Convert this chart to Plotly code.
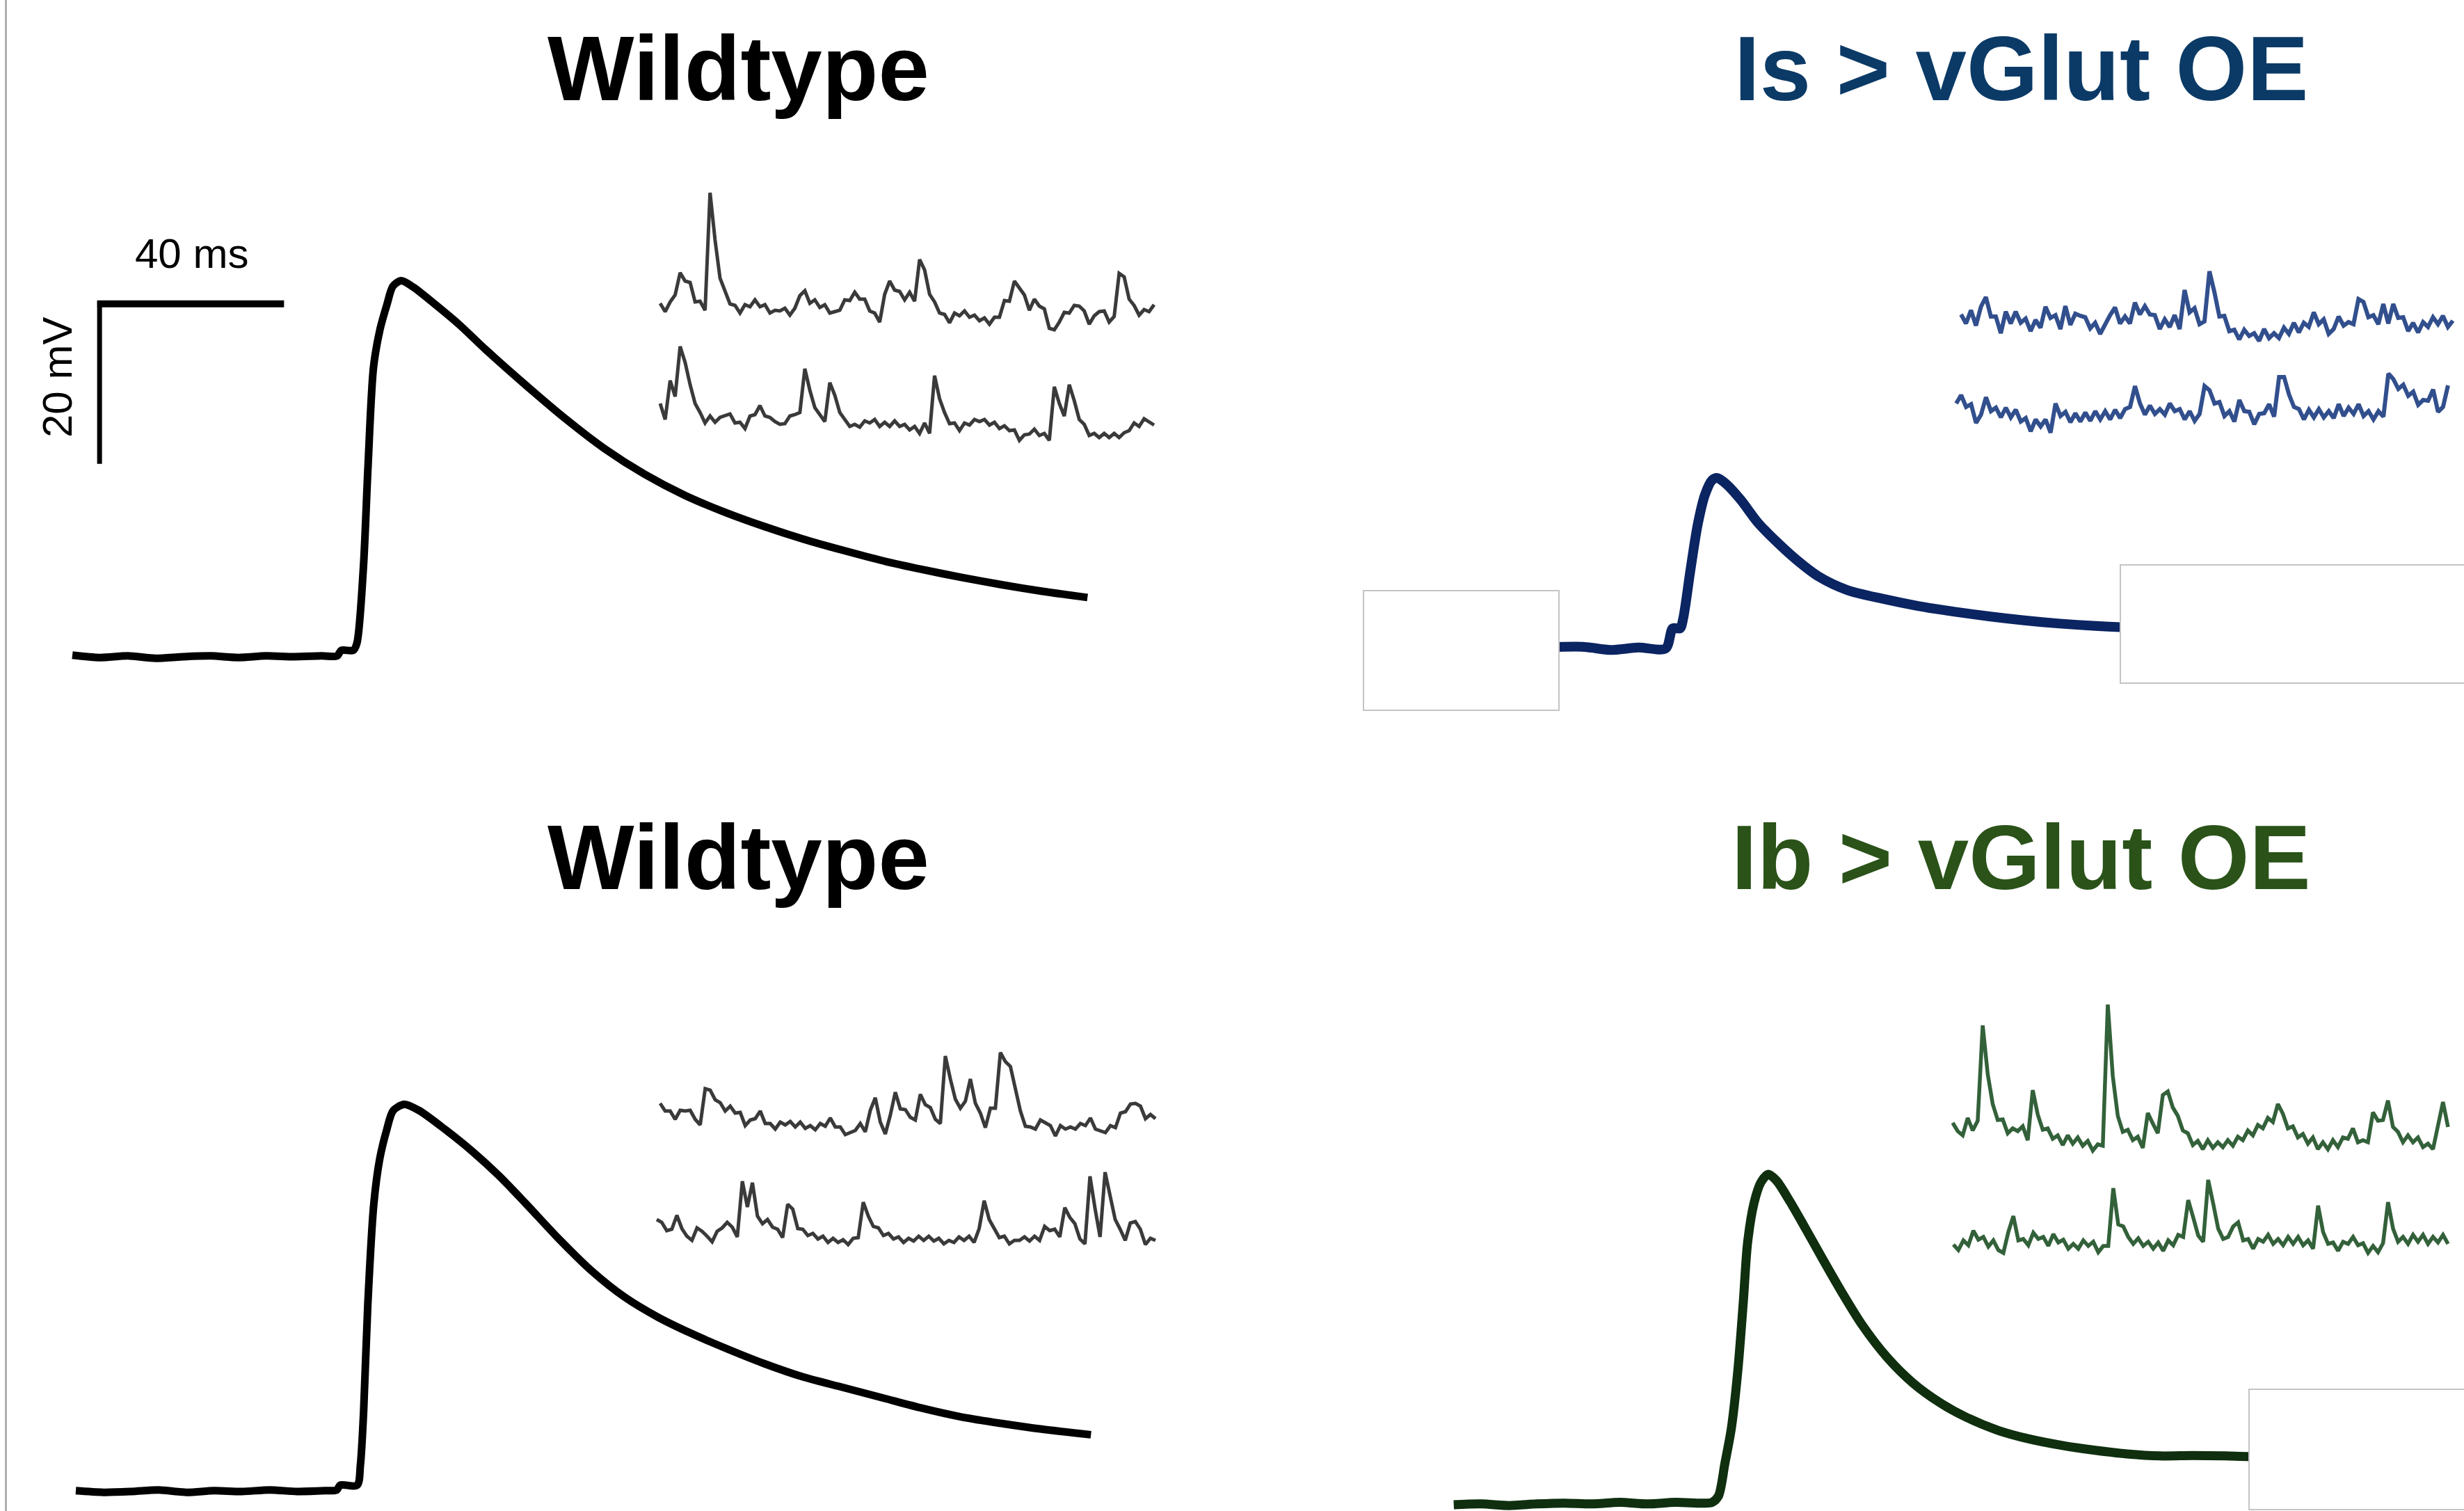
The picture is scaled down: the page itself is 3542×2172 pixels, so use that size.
import plotly.graph_objects as go

W, H = 3542, 2172

# ---------------- evoked EPSPs (time in ms, membrane potential in mV above rest) -------------
WT_TOP_T = [0, 6, 12, 18, 24, 30, 36, 42, 48, 54, 57.4, 58.3, 60.9, 61.7, 63.1, 64.1, 65.3, 66.7, 68.2, 69.5,
            71.3, 73.9, 78.1, 83.9, 89.6, 98.2, 106.8, 115.4, 124.1, 132.7, 141.3, 149.9, 158.5, 167.1, 175.7,
            184.3, 192.9, 201.5, 210.1, 220.1]
WT_TOP_V = [0.2, -0.1, 0.1, -0.2, 0.0, 0.1, -0.1, 0.1, 0.0, 0.1, 0.1, 0.8, 0.8, 1.7, 11.1, 23.7, 36.2, 40.9, 44.0, 46.3,
            47.0, 46.2, 44.3, 41.5, 38.4, 34.0, 29.8, 26.0, 22.8, 20.2, 18.1, 16.3, 14.7, 13.3, 12.0,
            10.9, 9.9, 9.0, 8.2, 7.4]

WT_BOT_T = [0, 6, 12, 18, 24, 30, 36, 42, 48, 54, 56.6, 57.3, 61.0, 61.7, 62.4, 63.3, 64.6, 65.9, 67.4, 68.8,
            71.2, 74.5, 80.2, 86.0, 91.7, 97.4, 104.7, 111.8, 119.0, 126.2, 133.3, 140.5, 149.2, 157.8, 166.4,
            175.0, 183.6, 192.2, 200.8, 209.4, 220.1]
WT_BOT_V = [0.1, -0.1, 0.0, 0.2, -0.1, 0.1, 0.0, 0.2, 0.0, 0.1, 0.2, 0.8, 0.8, 3.3, 10.0, 23.3, 35.9, 41.6, 45.2, 47.6,
            48.4, 47.6, 45.2, 42.5, 39.5, 36.1, 31.6, 27.6, 24.3, 21.8, 19.8, 18.0, 16.0, 14.3, 13.0,
            11.7, 10.4, 9.3, 8.5, 7.8, 7.1]

IS_T = [0, 10, 20, 30, 40, 46, 52, 58.0, 59.5, 61.1, 61.8, 63.3, 64.9, 66.5, 68.0, 69.1, 71.0, 74.2, 78.0, 81.9,
        86.5, 91.1, 97.3, 105.0, 112.7, 120.4, 128.1, 135.7, 143.4, 151.2, 156.6, 165.0]
IS_V = [0.0, 0.2, -0.1, 0.1, 0.2, -0.2, 0.1, 0.0, 2.5, 2.5, 3.8, 9.6, 15.4, 19.2, 21.0, 21.3, 20.6, 18.6, 15.7, 13.4,
        11.0, 9.0, 7.3, 6.2, 5.3, 4.6, 4.0, 3.5, 3.1, 2.8, 2.65, 2.5]

IB_T = [2, 8, 14, 20, 26, 32, 38, 44, 50, 56, 58.0, 59.4, 60.8, 62.2, 63.6, 64.8, 65.7, 67.1, 68.6, 70.2,
        72.0, 74.9, 78.4, 81.9, 86.1, 90.4, 96.0, 101.6, 107.3, 112.9, 120.0, 126.9, 134.0, 141.1, 148.0,
        155.1, 162.2, 169.2, 175.5, 185.0]
IB_V = [0.0, 0.1, -0.1, 0.1, 0.2, 0.1, 0.3, 0.1, 0.3, 0.2, 0.3, 1.1, 5.2, 9.6, 16.8, 25.5, 32.7, 37.7, 40.3, 41.3,
        40.5, 37.9, 34.4, 30.8, 26.6, 22.6, 18.4, 15.2, 12.8, 11.0, 9.3, 8.2, 7.4, 6.8, 6.35,
        6.1, 6.15, 6.1, 6.0, 5.9]

# ---------------- spontaneous minis (mV), one sample every MINI_DT_MS -------------------------
MINI_DT_MS = 10.0
WT_TOP_MINI_1 = [0.14, 0.02, 0.16, 0.26, 0.58, 0.46, 0.44, 0.16, 0.17, 0.04,
                 1.73, 1.05, 0.50, 0.33, 0.13, 0.11, 0.00, 0.12, 0.09, 0.19,
                 0.09, 0.12, 0.00, 0.04, 0.03, 0.07, -0.03, 0.07, 0.25, 0.32,
                 0.14, 0.19, 0.08, 0.12, 0.00, 0.02, 0.04, 0.19, 0.18, 0.30,
                 0.20, 0.20, 0.03, 0.00, -0.13, 0.27, 0.46, 0.33, 0.31, 0.19,
                 0.30, 0.17, 0.77, 0.62, 0.27, 0.16, 0.00, -0.02, -0.14, 0.00,
                 -0.04, 0.03, -0.06, -0.03, -0.11, -0.07, -0.16, -0.06, -0.06, 0.18,
                 0.17, 0.46, 0.37, 0.26, 0.04, 0.20, 0.10, 0.06, -0.22, -0.24,
                 -0.13, 0.01, 0.00, 0.11, 0.10, 0.03, -0.16, -0.04, 0.02, 0.03,
                 -0.13, -0.05, 0.57, 0.52, 0.20, 0.11, -0.03, 0.05, 0.02, 0.12]
WT_TOP_MINI_2 = [0.33, 0.10, 0.66, 0.43, 1.15, 0.92, 0.60, 0.33, 0.20, 0.05,
                 0.15, 0.06, 0.13, 0.15, 0.18, 0.05, 0.06, -0.03, 0.15, 0.17,
                 0.30, 0.15, 0.13, 0.07, 0.03, 0.04, 0.15, 0.17, 0.20, 0.83,
                 0.52, 0.27, 0.16, 0.07, 0.63, 0.45, 0.20, 0.11, 0.00, 0.03,
                 -0.01, 0.08, 0.05, 0.10, 0.00, 0.06, 0.00, 0.08, 0.00, 0.03,
                 -0.05, 0.00, -0.10, 0.05, -0.10, 0.73, 0.40, 0.20, 0.04, 0.05,
                 -0.06, 0.05, 0.02, 0.10, 0.07, 0.10, 0.02, 0.06, -0.03, 0.01,
                 -0.06, -0.05, -0.20, -0.12, -0.11, -0.04, -0.13, -0.10, -0.20, 0.57,
                 0.33, 0.15, 0.60, 0.37, 0.10, 0.03, -0.13, -0.10, -0.16, -0.10,
                 -0.16, -0.10, -0.16, -0.09, -0.06, 0.05, 0.00, 0.11, 0.07, 0.02]
IS_MINI_1 = [0.15, 0.02, 0.21, -0.01, 0.26, 0.40, 0.12, 0.12, -0.12, 0.19,
             0.02, 0.19, 0.03, 0.09, -0.09, 0.07, -0.04, 0.26, 0.10, 0.14,
             -0.06, 0.27, 0.00, 0.16, 0.13, 0.11, -0.05, 0.03, -0.13, 0.01,
             0.14, 0.25, 0.02, 0.12, 0.02, 0.32, 0.15, 0.27, 0.15, 0.14,
             -0.06, 0.08, -0.03, 0.14, -0.06, 0.50, 0.18, 0.24, 0.01, 0.05,
             0.77, 0.47, 0.12, 0.13, -0.09, -0.07, -0.21, -0.07, -0.16, -0.12,
             -0.23, -0.06, -0.19, -0.12, -0.19, -0.04, -0.13, 0.03, -0.11, 0.03,
             -0.03, 0.18, 0.01, 0.08, -0.13, -0.06, 0.12, -0.01, 0.04, 0.01,
             0.37, 0.33, 0.11, 0.14, 0.01, 0.30, 0.02, 0.30, 0.10, 0.11,
             -0.09, 0.03, -0.11, 0.04, -0.03, 0.11, 0.01, 0.13, -0.03, 0.06]
IS_MINI_2 = [0.17, 0.29, 0.12, 0.16, -0.11, 0.01, 0.26, 0.06, 0.11, -0.03,
             0.11, -0.03, 0.08, -0.09, -0.04, -0.23, -0.06, -0.16, -0.06, -0.25,
             0.17, -0.01, 0.05, -0.10, 0.03, -0.09, 0.04, -0.08, 0.06, -0.06,
             0.06, -0.06, 0.08, -0.04, 0.09, 0.12, 0.42, 0.17, 0.01, 0.14,
             0.02, 0.09, 0.01, 0.17, 0.06, 0.09, -0.06, 0.06, -0.08, 0.02,
             0.42, 0.36, 0.17, 0.19, -0.01, 0.06, -0.09, 0.22, 0.06, 0.05,
             -0.13, 0.02, 0.03, 0.16, -0.02, 0.55, 0.55, 0.30, 0.12, 0.09,
             -0.06, 0.08, -0.03, 0.09, -0.03, 0.06, -0.04, 0.16, -0.01, 0.11,
             0.02, 0.16, -0.01, 0.06, -0.06, 0.06, -0.02, 0.60, 0.52, 0.38,
             0.44, 0.28, 0.34, 0.15, 0.22, 0.21, 0.37, 0.05, 0.12, 0.43]
WT_BOT_MINI_1 = [0.37, 0.26, 0.26, 0.14, 0.27, 0.26, 0.27, 0.14, 0.06, 0.58,
                 0.56, 0.42, 0.38, 0.26, 0.33, 0.23, 0.24, 0.05, 0.13, 0.15,
                 0.26, 0.08, 0.08, 0.00, 0.10, 0.06, 0.11, 0.03, 0.10, 0.01,
                 0.05, -0.01, 0.08, 0.04, 0.16, 0.03, 0.03, -0.08, -0.05, -0.02,
                 0.08, -0.04, 0.27, 0.45, 0.10, -0.07, 0.20, 0.53, 0.29, 0.28,
                 0.17, 0.13, 0.50, 0.35, 0.31, 0.14, 0.08, 1.05, 0.72, 0.43,
                 0.30, 0.40, 0.72, 0.37, 0.23, 0.02, 0.30, 0.30, 1.10, 0.97,
                 0.90, 0.57, 0.26, 0.04, 0.03, 0.00, 0.13, 0.09, 0.05, -0.10,
                 0.05, 0.00, 0.03, 0.00, 0.08, 0.05, 0.16, 0.00, -0.02, -0.05,
                 0.05, 0.02, 0.23, 0.25, 0.36, 0.37, 0.33, 0.15, 0.21, 0.15]
WT_BOT_MINI_2 = [0.30, 0.26, 0.14, 0.16, 0.36, 0.17, 0.06, 0.00, 0.18, 0.13,
                 0.06, -0.02, 0.13, 0.18, 0.26, 0.19, 0.05, 0.85, 0.48, 0.83,
                 0.35, 0.24, 0.30, 0.19, 0.16, 0.04, 0.52, 0.45, 0.17, 0.16,
                 0.07, 0.10, 0.02, 0.06, -0.03, 0.03, -0.03, 0.01, -0.06, 0.03,
                 0.04, 0.55, 0.35, 0.20, 0.18, 0.07, 0.10, 0.02, 0.05, -0.03,
                 0.03, -0.01, 0.06, 0.00, 0.06, -0.01, 0.03, -0.05, 0.00, -0.03,
                 0.05, 0.00, 0.06, -0.03, 0.17, 0.57, 0.30, 0.16, 0.04, 0.06,
                 -0.05, 0.00, 0.00, 0.05, -0.01, 0.06, 0.00, 0.20, 0.14, 0.16,
                 0.05, 0.47, 0.33, 0.24, 0.02, -0.05, 0.92, 0.46, 0.05, 0.98,
                 0.63, 0.30, 0.16, 0.00, 0.25, 0.27, 0.16, -0.06, 0.03, 0.00]
IB_MINI_1 = [0.23, 0.11, 0.05, 0.30, 0.12, 0.26, 1.63, 0.93, 0.50, 0.27,
             0.28, 0.08, 0.15, 0.11, 0.18, -0.02, 0.70, 0.35, 0.13, 0.15,
             0.00, 0.05, -0.09, 0.05, -0.07, 0.02, -0.10, -0.03, -0.17, -0.08,
             -0.10, 1.93, 0.90, 0.33, 0.10, 0.13, -0.02, 0.03, -0.13, 0.37,
             0.22, 0.08, 0.63, 0.68, 0.45, 0.33, 0.12, 0.08, -0.09, -0.03,
             -0.15, -0.02, -0.13, -0.05, -0.12, -0.02, -0.10, 0.03, -0.02, 0.12,
             0.05, 0.20, 0.15, 0.30, 0.24, 0.50, 0.36, 0.15, 0.18, 0.02,
             0.07, -0.07, 0.02, -0.15, -0.05, -0.15, -0.02, -0.12, 0.02, 0.00,
             0.15, -0.05, -0.02, -0.05, 0.38, 0.26, 0.27, 0.55, 0.17, 0.10,
             -0.05, 0.05, -0.05, 0.02, -0.12, -0.07, -0.15, 0.20, 0.53, 0.17]
IB_MINI_2 = [0.04, -0.04, 0.10, 0.03, 0.24, 0.11, 0.15, 0.01, 0.10, -0.04,
             -0.08, 0.22, 0.45, 0.10, 0.12, 0.03, 0.21, 0.12, 0.15, 0.02,
             0.19, 0.07, 0.11, -0.02, 0.05, -0.02, 0.10, 0.02, 0.08, -0.07,
             0.02, 0.02, 0.85, 0.33, 0.30, 0.15, 0.05, 0.13, 0.02, 0.08,
             -0.02, 0.07, -0.05, 0.10, 0.03, 0.18, 0.15, 0.68, 0.43, 0.17,
             0.08, 0.97, 0.63, 0.27, 0.12, 0.15, 0.30, 0.36, 0.10, 0.12,
             -0.02, 0.12, 0.08, 0.18, 0.05, 0.12, 0.03, 0.15, 0.05, 0.15,
             0.03, 0.10, -0.02, 0.60, 0.22, 0.05, 0.07, -0.05, 0.08, 0.05,
             0.15, 0.03, 0.06, -0.08, 0.02, -0.07, 0.06, 0.65, 0.27, 0.08,
             0.15, 0.05, 0.18, 0.08, 0.18, 0.05, 0.15, 0.07, 0.18, 0.05]

# scale bar
SCALE_MS = 40
SCALE_MV = 20

TITLES = ["Wildtype", "Is > vGlut OE", "Wildtype", "Ib > vGlut OE"]

# ---------------- styling / placement ----------------
BLACK = "#000000"
NAVY = "#0b2462"
DKGREEN = "#0f2f0f"
WT_MINI = "#3a3a3a"
IS_MINI = "#324f8d"
IB_MINI = "#33613a"
TITLE_COLORS = ["#000000", "#0b3a66", "#000000", "#2a5219"]

PX_PER_MS = 6.63      # EPSP time scale (px per ms)
PX_PER_MV = 11.5      # EPSP voltage scale (px per mV)
MINI_PX_PER_MV = 100.0

fig = go.Figure()
axis_count = [0]


def new_axes(x0, y0, sx, sy):
    axis_count[0] += 1
    i = axis_count[0]
    sfx = "" if i == 1 else str(i)
    common = dict(domain=[0, 1], visible=False, showgrid=False, zeroline=False, fixedrange=True)
    fig.layout["xaxis" + sfx] = dict(range=[-x0 / sx, (W - x0) / sx], anchor="y" + sfx, **common)
    fig.layout["yaxis" + sfx] = dict(range=[-(H - y0) / sy, y0 / sy], anchor="x" + sfx, **common)
    return "x" + sfx, "y" + sfx


def add_epsp(t, v, color, x0, y0, width=10):
    xa, ya = new_axes(x0, y0, PX_PER_MS, PX_PER_MV)
    fig.add_trace(go.Scatter(x=t, y=v, mode="lines", xaxis=xa, yaxis=ya,
                             line=dict(color=color, width=width, shape="spline", smoothing=0.8),
                             hoverinfo="skip"))
    return xa, ya


def add_mini(v, color, x_start, x_end, y0, width=5):
    t = [k * MINI_DT_MS for k in range(len(v))]
    sx = (x_end - x_start) / t[-1]
    xa, ya = new_axes(x_start, y0, sx, MINI_PX_PER_MV)
    fig.add_trace(go.Scatter(x=t, y=v, mode="lines", xaxis=xa, yaxis=ya,
                             line=dict(color=color, width=width), hoverinfo="skip"))


# EPSPs (pixel position of t=0, V=0)
xa_tl, ya_tl = add_epsp(WT_TOP_T, WT_TOP_V, BLACK, 104, 944, width=11)
add_epsp(WT_BOT_T, WT_BOT_V, BLACK, 109, 2144, width=11)
add_epsp(IS_T, IS_V, NAVY, 2010, 932, width=14)
add_epsp(IB_T, IB_V, DKGREEN, 2076.5, 2163, width=13)

# scale bar drawn in the top-left EPSP axes
corner_t, corner_v = 5.9, 44.1
fig.add_trace(go.Scatter(x=[corner_t - 0.5, corner_t + SCALE_MS], y=[corner_v, corner_v], mode="lines",
                         xaxis=xa_tl, yaxis=ya_tl, line=dict(color="black", width=10), hoverinfo="skip"))
fig.add_trace(go.Scatter(x=[corner_t, corner_t], y=[corner_v + 0.4, corner_v - SCALE_MV], mode="lines",
                         xaxis=xa_tl, yaxis=ya_tl, line=dict(color="black", width=7), hoverinfo="skip"))

# minis
add_mini(WT_TOP_MINI_1, WT_MINI, 949, 1659, 450)
add_mini(WT_TOP_MINI_2, WT_MINI, 949, 1659, 613)
add_mini(IS_MINI_1, IS_MINI, 2819, 3526, 467, width=6)
add_mini(IS_MINI_2, IS_MINI, 2812, 3519, 597, width=6)
add_mini(WT_BOT_MINI_1, WT_MINI, 949, 1661, 1623)
add_mini(WT_BOT_MINI_2, WT_MINI, 944, 1661, 1783)
add_mini(IB_MINI_1, IB_MINI, 2807, 3519, 1637, width=5.5)
add_mini(IB_MINI_2, IB_MINI, 2808, 3519, 1793, width=5.5)


def px(x):
    return x / W


def py(y):
    return 1 - y / H


shapes = []
# white masking boxes
for (x0, y0, x1, y1) in [(1960, 849, 2241, 1021), (3048, 812, 3600, 982), (3233, 1997, 3600, 2170)]:
    shapes.append(dict(type="rect", xref="paper", yref="paper", x0=px(x0), x1=px(x1), y0=py(y1), y1=py(y0),
                       fillcolor="white", line=dict(color="#c4c4c4", width=2), layer="above"))
# left border line
shapes.append(dict(type="line", xref="paper", yref="paper", x0=px(8.5), x1=px(8.5), y0=0, y1=1,
                   line=dict(color="#a0a0a0", width=2.5), layer="above"))

FONT = "Liberation Sans, Arial, Helvetica, sans-serif"
annotations = []
title_pos = [(1061, 99), (2905, 99), (1061, 1232), (2905, 1232)]
for txt, col, (x, y) in zip(TITLES, TITLE_COLORS, title_pos):
    annotations.append(dict(text="<b>" + txt.replace(">", "&gt;") + "</b>", xref="paper", yref="paper",
                            x=px(x), y=py(y), xanchor="center", yanchor="middle", showarrow=False,
                            font=dict(family=FONT, size=132, color=col)))
annotations.append(dict(text=f"{SCALE_MS} ms", xref="paper", yref="paper", x=px(275), y=py(365),
                        xanchor="center", yanchor="middle", showarrow=False,
                        font=dict(family=FONT, size=60, color="black")))
annotations.append(dict(text=f"{SCALE_MV} mV", xref="paper", yref="paper", x=px(82), y=py(543),
                        xanchor="center", yanchor="middle", showarrow=False, textangle=-90,
                        font=dict(family=FONT, size=60, color="black")))

fig.update_layout(width=W, height=H, margin=dict(l=0, r=0, t=0, b=0, pad=0),
                  paper_bgcolor="white", plot_bgcolor="rgba(0,0,0,0)", showlegend=False,
                  shapes=shapes, annotations=annotations)

fig.write_html("out.html", include_plotlyjs=True,
               config={"displayModeBar": False, "staticPlot": True},
               post_script="document.body.style.margin='0';document.body.style.overflow='hidden';")
